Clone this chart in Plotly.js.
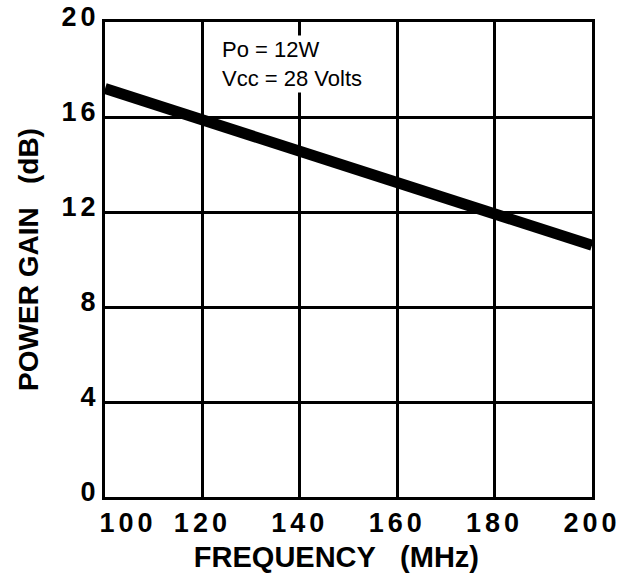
<!DOCTYPE html>
<html>
<head>
<meta charset="utf-8">
<script src="https://cdn.plot.ly/plotly-3.0.1.min.js"></script>
<style>
html,body{margin:0;padding:0;background:#fff;}
#chart{width:622px;height:584px;}
.xtick text, .ytick text {letter-spacing:4px;}
</style>
</head>
<body>
<div id="chart"></div>
<script>
// Data
const frequencyMHz = [100, 120, 140, 160, 180, 200];
const powerGainDb = [17.2, 15.9, 14.6, 13.25, 11.9, 10.6];
const xTickVals = [100, 120, 140, 160, 180, 200];
const xTickText = ['&nbsp;&nbsp;&nbsp;&nbsp;100', '120', '140', '160', '180', '200'];
const yTickVals = [0, 4, 8, 12, 16, 20];
const yTickText = ['0', '4', '8', '12', '16', '20'];
const noteLines = ["Po = 12W", "Vcc = 28 Volts"];

const FONT = 'Liberation Sans, Arial, Helvetica, sans-serif';

const trace = {
  x: frequencyMHz,
  y: powerGainDb,
  type: 'scatter',
  mode: 'lines',
  line: {color: '#000', width: 11},
  hoverinfo: 'skip',
  showlegend: false
};

const axisCommon = {
  showline: true,
  linecolor: '#000',
  linewidth: 3,
  mirror: true,
  showgrid: true,
  gridcolor: '#000',
  gridwidth: 3,
  zeroline: false,
  ticks: '',
  ticklabeloverflow: 'allow',
  tickfont: {family: FONT, size: 27, color: '#000', weight: 'bold'}
};

const layout = {
  width: 622,
  height: 584,
  margin: {l: 105, r: 30, t: 22, b: 87},
  paper_bgcolor: '#fff',
  plot_bgcolor: '#fff',
  xaxis: Object.assign({}, axisCommon, {
    range: [100, 200],
    tickvals: xTickVals,
    ticktext: xTickText,
    ticklabelstandoff: 0,
    title: {text: 'FREQUENCY&nbsp;&nbsp;&nbsp;(MHz)&nbsp;&nbsp;&nbsp;', font: {family: FONT, size: 29, color: '#000', weight: 'bold'}, standoff: 10}
  }),
  yaxis: Object.assign({}, axisCommon, {
    range: [0, 20],
    tickvals: yTickVals,
    ticktext: yTickText,
    ticklabelstandoff: -3,
    ticklabelshift: -5,
    title: {text: 'POWER GAIN&nbsp;&nbsp;&nbsp;(dB)', font: {family: FONT, size: 28, color: '#000', weight: 'bold'}, standoff: 15}
  }),
  annotations: [{
    x: 123.6, y: 19.45, xref: 'x', yref: 'y',
    xanchor: 'left', yanchor: 'top',
    text: noteLines.join('<br>'),
    showarrow: false,
    align: 'left',
    bgcolor: '#fff',
    borderpad: 1,
    font: {family: FONT, size: 22, color: '#000'}
  }]
};

Plotly.newPlot('chart', [trace], layout, {displayModeBar: false, staticPlot: true});
</script>
</body>
</html>
